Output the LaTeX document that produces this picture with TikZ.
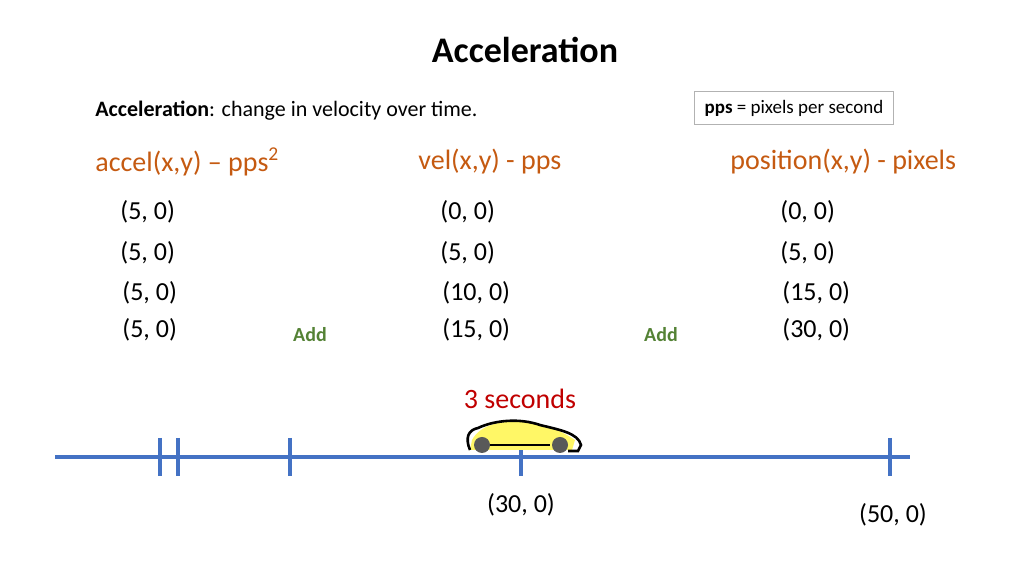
\documentclass[tikz,border=0pt]{standalone}
\usepackage{fontspec}
\setmainfont{Carlito}
\definecolor{myorange}{RGB}{197,90,17}
\definecolor{myred}{RGB}{192,0,0}
\definecolor{mygreen}{RGB}{84,130,53}
\definecolor{myblue}{RGB}{68,114,196}
\definecolor{mygray}{RGB}{89,89,89}
\usetikzlibrary{positioning}
\begin{document}
\begin{tikzpicture}[x=0.5pt,y=-0.5pt,
  every node/.style={inner sep=0pt},
  head/.style={text=myorange,font=\fontsize{14}{16}\selectfont,anchor=west},
  pair/.style={font=\fontsize{13}{15}\selectfont,anchor=west},
  addnode/.style={text=mygreen,font=\bfseries\fontsize{10}{12}\selectfont},
  tick/.style={myblue,line width=1.6pt}
]
\useasboundingbox (0,0) rectangle (1024,576);

% Title
\node (title) at (525,50) {\bfseries\fontsize{18}{22}\selectfont Acceleration};
\node[anchor=west] (defn) at (95,111) {\fontsize{11}{13}\selectfont\textbf{Acceleration}: change in velocity over time.};
\node[draw=gray!60,inner xsep=5pt,inner ysep=4pt] (ppsbox) at (794,108)
  {\fontsize{9.5}{11}\selectfont\textbf{pps} = pixels per second};

% Headings
\node[head] (hacc) at (95,162) {accel(x,y) -- pps\textsuperscript{2}};
\node[head] (hvel) at (418,162) {vel(x,y) - pps};
\node[head] (hpos) at (730,162) {position(x,y) - pixels};

% Values
\foreach \y/\a/\v/\p/\dx in {212/{(5, 0)}/{(0, 0)}/{(0, 0)}/0,
                              253/{(5, 0)}/{(5, 0)}/{(5, 0)}/0,
                              293/{(5, 0)}/{(10, 0)}/{(15, 0)}/2,
                              330/{(5, 0)}/{(15, 0)}/{(30, 0)}/2} {
  \node[pair] (a\y) at (120+\dx,\y) {\a};
  \node[pair] (v\y) at (440+\dx,\y) {\v};
  \node[pair] (p\y) at (780+\dx,\y) {\p};
}
\node[addnode] (add1) at (310,335) {Add};
\node[addnode] (add2) at (661,335) {Add};

% Timeline
\coordinate (lstart) at (55,457);
\coordinate (lend) at (910,457);
\draw[tick] (lstart) -- (lend);
\foreach \x in {160,178,290,521,890}
  \draw[tick] (\x,438) -- (\x,476);

% Car
\fill[yellow!60!white] (472,440) .. controls (480,425) and (500,420) .. (525,422)
  .. controls (545,424) and (560,430) .. (575,440) -- (572,450) -- (470,450) -- cycle;
\draw[line width=1.3pt] (470,450) .. controls (465,438) and (468,430) .. (478,428)
  .. controls (495,420) and (520,418) .. (540,425)
  .. controls (560,430) and (578,433) .. (581,445) -- (578,451) -- (568,451);
\draw[line width=1.3pt] (490,445) -- (550,445);
\fill[mygray] (482,445) circle (8);
\fill[mygray] (560,445) circle (8);

\node[text=myred,font=\fontsize{14}{16}\selectfont] (secs) at (520,399) {3 seconds};
\node[pair,anchor=center] (m30) at (521,505) {(30, 0)};
\node[pair,anchor=center] (m50) at (893,515) {(50, 0)};
\end{tikzpicture}
\end{document}
